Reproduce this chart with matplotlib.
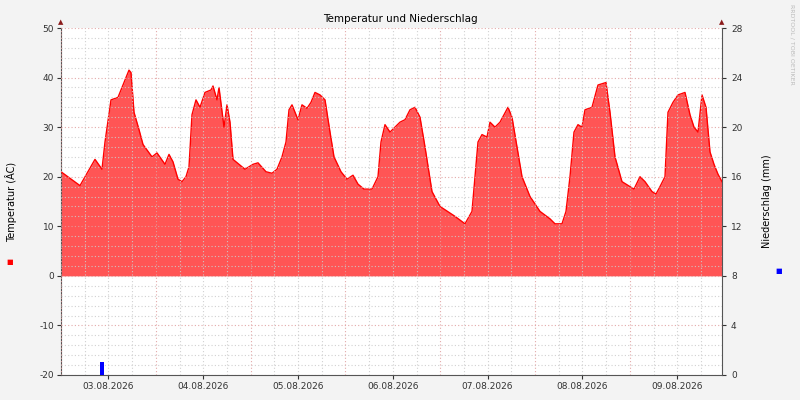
import matplotlib
matplotlib.use("Agg")
import matplotlib.pyplot as plt
import numpy as np
plt.rcParams["axes.unicode_minus"] = False

# pixel-x positions, converted to hours since 03.08 00:00
temp_x = [61,80,95,102,105,111,118,122,129,131,134,139,143,152,157,165,169,173,178,182,186,189,192,196,200,205,211,213,217,219,224,227,230,233,245,253,258,266,272,277,282,286,289,292,298,302,307,311,315,320,325,330,334,341,347,353,358,364,372,378,381,385,390,395,400,405,410,415,420,425,432,440,455,465,472,478,482,487,490,495,500,508,512,517,522,530,540,550,555,562,566,570,574,578,582,585,592,598,606,610,615,622,630,634,640,645,652,656,660,665,668,673,678,685,690,694,698,702,706,710,714,718,722]
temp_v = [21,18.2,23.5,21.5,27,35.5,36,38,41.5,41,33,29.5,26.5,24,24.8,22.5,24.5,23,19.5,19,20,22,32.5,35.5,34,37,37.5,38.3,35.5,38,30,34.5,31,23.5,21.5,22.5,22.8,21,20.7,21.5,24,27,33.5,34.5,31.5,34.5,33.8,35,37,36.5,35.5,29,24,21,19.5,20.3,18.5,17.5,17.5,20,27,30.5,29,30,31,31.5,33.5,34,32,26,17,14,12,10.5,13,27,28.5,28,31,30,31,34,32,26,20,16,13,11.5,10.5,10.5,13,20,29,30.5,30,33.5,34,38.5,39,33,24,19,18,17.5,20,19,17,16.5,18,20,33,35,36.5,37,32.5,30,29,36.5,34,25,22.5,20.5,19]
rain_hour = [10.4]
rain_mm = [1.05]
day_labels = ["03.08.2026","04.08.2026","05.08.2026","06.08.2026","07.08.2026","08.08.2026","09.08.2026"]

px_per_h = 94.8/24
th = [(x-61)/px_per_h for x in temp_x]

fig = plt.figure(figsize=(8,4), dpi=100, facecolor="#f3f3f3")
ax = fig.add_axes([61/800, 25/400, 661/800, 347/400])
ax.set_facecolor("white")
ax.set_xlim(0, 661/px_per_h)
ax.set_ylim(-20, 50)
ax.fill_between(th, temp_v, 0, color="#ff5555", lw=0, zorder=2)
ax.plot(th, temp_v, color="#ff0000", lw=1, zorder=3)

for y in np.arange(-20, 51, 2):
    major = (y % 10 == 0)
    ax.axhline(y, color="#e0a0a0" if major else "#cccccc", ls=(0,(1,2)), lw=0.8, zorder=4, alpha=0.9)
for h in np.arange(0, 169, 6):
    major = (h % 24 == 0)
    ax.axvline(h, color="#e0a0a0" if major else "#cccccc", ls=(0,(1,2)), lw=0.8, zorder=4, alpha=0.9)

ax.set_yticks(np.arange(-20, 51, 10))
ax.set_xticks([12+24*i for i in range(7)])
ax.set_xticklabels(day_labels)
ax.tick_params(labelsize=6.5, length=3, colors="#333333", pad=2)
for s in ["top","right"]:
    ax.spines[s].set_visible(False)
for s in ["left","bottom"]:
    ax.spines[s].set_color("#555555")
ax.set_ylabel("Temperatur (ÂC)", fontsize=7, labelpad=16)

ax2 = ax.twinx()
ax2.set_ylim(0, 28)
ax2.set_yticks(np.arange(0, 29, 4))
ax2.bar(rain_hour, rain_mm, width=1.0, color="#0000ff", zorder=5)
ax2.tick_params(labelsize=6.5, length=3, colors="#333333")
for s in ["top","left","bottom"]:
    ax2.spines[s].set_visible(False)
ax2.spines["right"].set_color("#555555")
ax2.set_ylabel("Niederschlag (mm)", fontsize=7, labelpad=14)

fig.text(61/800, 1-22/400, "▲", color="#8b1a1a", fontsize=5, ha="center", va="center")
fig.text(722/800, 1-22/400, "▲", color="#8b1a1a", fontsize=5, ha="center", va="center")
fig.text(0.5, 1-19/400, "Temperatur und Niederschlag", fontsize=7.5, ha="center", va="center")
fig.text(10/800, 1-262/400, "■", color="#ff0000", fontsize=5, ha="center", va="center")
fig.text(779/800, 1-271/400, "■", color="#0000ff", fontsize=5, ha="center", va="center")
fig.text(792/800, 0.99, "RRDTOOL / TOBI OETIKER", rotation=270, fontsize=4.5, color="#bbbbbb", ha="center", va="top")
fig.savefig("out.png", dpi=100, facecolor=fig.get_facecolor())
